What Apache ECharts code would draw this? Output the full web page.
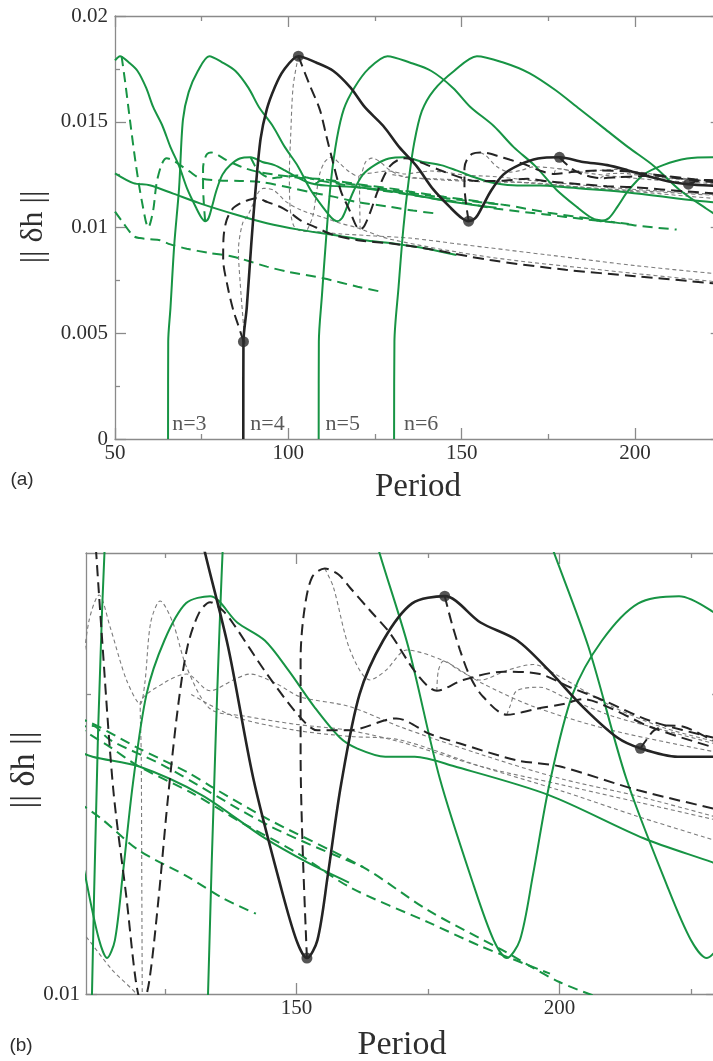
<!DOCTYPE html>
<html>
<head>
<meta charset="utf-8">
<script src="https://cdn.jsdelivr.net/npm/echarts@6/dist/echarts.min.js"></script>
<style>
  html, body { margin: 0; padding: 0; background: #fff; }
  #chart { width: 713px; height: 1061px; }
</style>
</head>
<body>
<div id="chart"></div>
<script>
// ---- tick values and labels ----
const periodLabelsA = [50, 100, 150, 200];
const periodMinorA = [75, 125, 175, 225];
const normLabelsA = [0, 0.005, 0.01, 0.015, 0.02];
const normTextsA = ['0', '0.005', '0.01', '0.015', '0.02'];
const normMinorA = [0.0025, 0.0075, 0.0125, 0.0175];
const periodLabelsB = [150, 200];
const periodMinorB = [125, 175, 225];
const normLabelsB = [0.01];
const normTextsB = ['0.01'];
const normMinorB = [0.0125];

// ---- solid branches [period, ||dh||] ----
const branchN2 = [[50,0.0179],[51.45,0.0181],[54,0.0178],[56.5,0.0174],[59,0.0166],[61,0.0157],[63.7,0.0148],[66,0.0138],[68.5,0.0129],[70.9,0.0118],[73.5,0.0109],[75,0.01045],[76,0.0103],[77,0.01045],[78,0.0110],[79.25,0.01175],[81,0.0125],[83.25,0.01295],[86,0.01326],[89.1,0.01332],[92.5,0.0131],[96,0.01295],[99,0.0127],[102.3,0.01239],[105.5,0.01214],[107.7,0.01205],[111.25,0.01198],[120,0.0119],[132,0.01166],[144,0.0113],[152,0.0111],[160,0.01093]];
const branchN3 = [[65.3,0],[65.35,0.0046],[66,0.0062],[67.1,0.0092],[68.5,0.0119],[69.6,0.0151],[71.25,0.0164],[73.9,0.0174],[77.2,0.0181],[81,0.0178],[84.75,0.0174],[88.5,0.0166],[91.5,0.0157],[95.5,0.0148],[99,0.0138],[102.75,0.0129],[106.35,0.0118],[110.25,0.0109],[112.5,0.01045],[114,0.0103],[115.5,0.01045],[117,0.0110],[118.9,0.01175],[121.5,0.0125],[124.9,0.01295],[129,0.01326],[133.6,0.01332],[138.75,0.0131],[144,0.01295],[148.5,0.0127],[153.5,0.01239],[158.25,0.01214],[161.5,0.01205],[166.9,0.01198],[172.5,0.01198],[180,0.0119],[198,0.01166],[216,0.0113],[229,0.0111],[232,0.01105]];
const branchN4 = [[87,0],[87.05,0.0046],[88,0.0062],[89.3,0.0092],[90.5,0.0117],[92,0.0142],[93.8,0.0156],[96,0.0166],[98.5,0.0174],[102.9,0.0181],[108,0.0178],[113,0.0174],[118,0.0166],[122,0.0157],[127.4,0.0148],[132,0.0138],[137,0.0129],[141.8,0.0118],[147,0.0109],[150,0.01045],[152,0.0103],[154,0.01045],[156,0.0110],[158.5,0.01175],[162,0.0125],[166.5,0.01295],[172,0.01326],[178.2,0.01332],[185,0.0131],[192,0.01295],[198,0.0127],[204.6,0.01239],[211,0.01214],[215.4,0.01205],[222.5,0.01198],[232,0.01198]];
const branchN5 = [[108.75,0],[108.8,0.0046],[109.7,0.0068],[110.9,0.0095],[112.3,0.0122],[114,0.0142],[116,0.0156],[119,0.0166],[123.1,0.0175],[128.6,0.0181],[135,0.0178],[141.25,0.0174],[147.5,0.0166],[152.5,0.0157],[159.25,0.0148],[165,0.0138],[171.25,0.0129],[177.25,0.0118],[183.75,0.0109],[187.5,0.01045],[190,0.0103],[192.5,0.01045],[195,0.0110],[198.1,0.01175],[202.5,0.0125],[208.1,0.01295],[215,0.01326],[222.75,0.01332],[232,0.0131]];
const branchN6 = [[130.5,0],[130.6,0.0046],[131.8,0.0072],[133.2,0.0100],[134.7,0.0122],[136.3,0.0140],[138.5,0.0155],[142,0.0165],[147.8,0.0174],[154.4,0.0181],[162,0.0178],[169.5,0.0173],[177,0.0165],[184,0.0156],[191,0.0147],[198,0.0138],[205.5,0.0129],[212.7,0.0118],[220.5,0.0109],[225,0.01045],[228,0.0103],[232,0.0105]];
const greenLow = [[50,0.01256],[55.3,0.0121],[60,0.0120],[66.8,0.0116],[74.5,0.01114],[85,0.0106],[93.8,0.0102],[103,0.0099],[113,0.00965],[122,0.0094],[129.3,0.00927],[140,0.0090],[148.5,0.0087]];

// ---- green dashed branches ----
const gDash1 = [[51.9,0.0181],[53,0.0168],[54.3,0.0151],[56,0.0130],[57.8,0.0112],[59.6,0.0100],[61,0.0108],[62,0.0121],[63.5,0.0130],[64.9,0.01327],[66.5,0.0132],[68.7,0.01296],[71.5,0.01265],[74.5,0.01233],[80,0.01222],[86,0.0122],[92,0.01215],[100,0.0119],[107,0.01165],[113,0.01146],[120,0.0112],[129.3,0.01098],[136,0.0108],[142.3,0.01067]];
const gDash2 = [[76,0.0103],[75.6,0.0112],[75.4,0.0120],[75.4,0.0128],[75.8,0.0132],[76.6,0.01348],[77.7,0.01355],[79,0.0135],[80.1,0.01339],[82,0.0132],[84,0.01304],[87.5,0.0128],[90.9,0.01264],[96,0.0125],[103.4,0.01235],[110,0.01228],[120,0.01205],[129.3,0.01185],[135,0.0117],[145,0.01145],[163,0.01105],[175,0.0107],[189,0.01037],[200,0.0101],[212,0.0099]];
const gDash3 = [[89.1,0.01332],[89.8,0.0131],[90.5,0.01287],[91.5,0.01265],[92.8,0.01248],[95,0.01233],[97.8,0.01238],[100.4,0.01242],[102.3,0.01246],[105,0.01238],[108.6,0.01223],[114.6,0.01206],[120,0.0119],[130,0.01168],[140,0.01142],[150,0.01118],[160.2,0.01089],[175,0.0106],[185,0.0104],[198.2,0.01017]];
const gDash4 = [[107.7,0.01205],[108.4,0.01213],[109,0.0122],[110.3,0.01224],[111.8,0.01223],[114.6,0.01212],[125,0.0119],[145,0.0114],[162.7,0.01106]];
const gDash5 = [[50,0.01075],[52,0.0103],[55.3,0.0096],[57.2,0.0095],[60,0.00945],[63,0.0094],[66,0.0092],[70.7,0.0090],[77,0.0088],[84.1,0.00862],[93.8,0.00815],[100,0.0079],[110,0.0076],[120,0.0072],[126.9,0.00696]];

// ---- black dashed branches ----
const kDash0 = [[87.1,0.0046],[85.5,0.0054],[84.1,0.0061],[82.5,0.0072],[81.2,0.0085],[81.3,0.0095],[82.2,0.01035],[84,0.0109],[86.1,0.01114],[88.5,0.0113],[90.9,0.01138],[94,0.0112],[97.6,0.01098],[100.5,0.0107],[103.4,0.01035],[108,0.0100],[113,0.00965],[120,0.0094],[129.3,0.00925],[140,0.0090],[158.2,0.00846],[180,0.0080],[200,0.0077],[222.5,0.00736],[232,0.0072]];
const kDash1 = [[102.9,0.0181],[106,0.0168],[109.1,0.01556],[111,0.0143],[113,0.0130],[115.2,0.0117],[117.7,0.0108],[119.5,0.0101],[120.7,0.0099],[122,0.0101],[123.8,0.0108],[125.5,0.0116],[127.5,0.0124],[129.3,0.0129],[131.5,0.01318],[133.6,0.01327],[136,0.0132],[138,0.01309],[144.4,0.01267],[150.7,0.01231],[154,0.0122],[160,0.0122],[169,0.0123],[175.4,0.01217],[181.1,0.01209],[191.9,0.01195],[200,0.0119],[215,0.0117],[232,0.01152]];
const kDash2 = [[152,0.0103],[151.2,0.0112],[150.8,0.0120],[150.8,0.0128],[151.5,0.0132],[153,0.01348],[155.4,0.01355],[158,0.0135],[160.2,0.01339],[164,0.0132],[167.8,0.01301],[172.9,0.01267],[176.7,0.01253],[181.7,0.01262],[189.4,0.01269],[196.3,0.01267],[202,0.01256],[208.4,0.01245],[217.2,0.01228],[229.2,0.01214],[232,0.01212]];
const kDash3 = [[178.2,0.01332],[179.5,0.0131],[181.1,0.01287],[183,0.01265],[185.5,0.01248],[190,0.01233],[195.7,0.01238],[200.8,0.01242],[204.6,0.01246],[210,0.01238],[217.2,0.01223],[229.2,0.01206],[232,0.01204]];
const kDash4 = [[215.4,0.01205],[216.7,0.01213],[218,0.0122],[220.5,0.01224],[223.6,0.01223],[229.2,0.01212],[232,0.0121]];

// ---- thin grey dashed branches ----
const grey1 = [[102.9,0.0181],[101.4,0.0167],[100.7,0.01445],[100.3,0.0125],[100.5,0.0110],[101.5,0.0101],[103.5,0.00985],[108,0.0098],[115,0.0097],[125,0.0096],[135,0.0095],[150,0.0092],[175,0.0087],[200,0.0082],[222.5,0.00783],[232,0.0077]];
const grey2 = [[87.5,0.0045],[86.1,0.0074],[85.6,0.0089],[86.8,0.0102],[88.4,0.0106],[89.9,0.01114],[91.5,0.0117],[92.8,0.01185],[95.7,0.01177],[99.5,0.0112],[104,0.0108],[110,0.01048],[115,0.0102],[119.6,0.0100],[129.3,0.00945],[158,0.0086],[190,0.0080],[222.5,0.00745],[232,0.0073]];
const grey3 = [[105.5,0.0099],[107,0.0105],[108,0.0115],[109,0.0125],[110.5,0.0131],[112.5,0.01333],[114.6,0.01306],[117.7,0.01262],[120.3,0.01242],[121.2,0.0126],[122.3,0.0131],[124.1,0.01328],[126.5,0.0131],[129.1,0.01273],[133.6,0.01238],[140,0.01232],[150,0.01225],[160,0.0122],[170,0.0121],[185,0.0119],[200,0.01175],[215,0.0116],[232,0.01143]];
const grey4 = [[120.7,0.0099],[120.6,0.0110],[120.5,0.0120],[120.3,0.01242],[125,0.0126],[129.1,0.01267],[133.6,0.01253],[138,0.01262],[141.2,0.01267],[146.2,0.01259],[150.7,0.01248],[160,0.0124],[169.7,0.01223],[185,0.0120],[200,0.0118],[215,0.01165],[232,0.01145]];
const grey5 = [[130,0.0125],[138.5,0.01231],[150,0.0122],[160,0.01215],[169.7,0.01212],[185,0.0119],[200,0.0117],[215,0.01148],[232,0.01125]];
const grey6 = [[176.7,0.01253],[177,0.0127],[178,0.01278],[181,0.0127],[185,0.01262],[190,0.0127],[195,0.01275],[200,0.01265],[210,0.0124],[220,0.01222],[232,0.01208]];
const grey7 = [[190,0.01233],[190.6,0.0124],[191.9,0.01253],[196.3,0.01256],[200.8,0.01248],[210,0.01232],[220,0.0122],[232,0.01206]];
const grey8 = [[155.4,0.01355],[157,0.0134],[160.2,0.01287],[164,0.01262],[167,0.0127],[171,0.01287],[178,0.01278],[185,0.0126],[195,0.0124],[210,0.0122],[232,0.0120]];

// ---- marked solutions on the n=4 branch ----
const markedPoints = [[87.05,0.0046],[102.9,0.0181],[152,0.0103],[178.2,0.01332],[215.4,0.01205]];

// ---- branch names written along the period axis ----
const branchNames = [[66.35,0.0007,'n=3'],[88.9,0.0007,'n=4'],[110.6,0.0007,'n=5'],[133.2,0.0007,'n=6']];

// ---- styles ----
const GREEN = '#179444';
const BLACK = '#242424';
const GREY = '#7c7c7c';
const AX = '#8a8a8a';
const SERIF = 'Liberation Serif';

const styleOf = {
  greenSolid: { color: GREEN, width: 2, type: 'solid', z: 4 },
  greenDash: { color: GREEN, width: 2, type: [10, 6], z: 3 },
  blackSolid: { color: BLACK, width: 2.6, type: 'solid', z: 6 },
  blackDash: { color: BLACK, width: 2, type: [11, 6], z: 5 },
  greyDash: { color: GREY, width: 1.1, type: [4, 3], z: 2 }
};

const curves = [
  [grey1, 'greyDash'], [grey2, 'greyDash'], [grey3, 'greyDash'], [grey4, 'greyDash'],
  [grey5, 'greyDash'], [grey6, 'greyDash'], [grey7, 'greyDash'], [grey8, 'greyDash'],
  [gDash1, 'greenDash'], [gDash2, 'greenDash'], [gDash3, 'greenDash'], [gDash4, 'greenDash'], [gDash5, 'greenDash'],
  [branchN2, 'greenSolid'], [branchN3, 'greenSolid'], [branchN5, 'greenSolid'], [branchN6, 'greenSolid'], [greenLow, 'greenSolid'],
  [kDash0, 'blackDash'], [kDash1, 'blackDash'], [kDash2, 'blackDash'], [kDash3, 'blackDash'], [kDash4, 'blackDash'],
  [branchN4, 'blackSolid']
];

// ---- layout: two panels, each with a twin grid carrying the short ticks ----
const rectA = { left: 115, top: 16, width: 606.7, height: 423 };
const rectB = { left: 86, top: 553, width: 631.2, height: 441 };
const gridBase = { containLabel: false, outerBoundsMode: 'none', show: false };
const grids = [rectA, rectA, rectB, rectB].map(r => Object.assign({}, gridBase, r));

function labelFmt(vals, texts) {
  return function (v) {
    for (let i = 0; i < vals.length; i++) {
      if (Math.abs(vals[i] - v) < 1e-9) return texts ? texts[i] : String(vals[i]);
    }
    return '';
  };
}

function axisPair(dim, gi, range, tickVals, long, labels, texts, fontSize, margin) {
  const pos = dim === 'x' ? ['bottom', 'top'] : ['left', 'right'];
  return pos.map((p, k) => ({
    type: 'value', gridIndex: gi, position: p, min: range[0], max: range[1],
    axisLine: { show: long, onZero: false, lineStyle: { color: AX, width: 1.3 } },
    axisTick: { show: true, inside: true, length: long ? 11 : 5, customValues: tickVals,
                lineStyle: { color: AX, width: 1.3 } },
    axisLabel: (k === 0 && labels) ? {
      show: true, customValues: labels, formatter: labelFmt(labels, texts),
      fontFamily: SERIF, fontSize: fontSize, color: '#2e2e2e', margin: margin
    } : { show: false },
    splitLine: { show: false },
    minorTick: { show: false }
  }));
}

const xRangeA = [50, 225], yRangeA = [0, 0.02];
const xRangeB = [110, 230], yRangeB = [0.01, 0.01368];

const xAxes = [].concat(
  axisPair('x', 0, xRangeA, periodLabelsA, true, periodLabelsA, null, 21, 4),
  axisPair('x', 1, xRangeA, periodMinorA, false),
  axisPair('x', 2, xRangeB, periodLabelsB, true, periodLabelsB, null, 21, 4),
  axisPair('x', 3, xRangeB, periodMinorB, false)
);
const yAxes = [].concat(
  axisPair('y', 0, yRangeA, normLabelsA, true, normLabelsA, normTextsA, 21, 7),
  axisPair('y', 1, yRangeA, normMinorA, false),
  axisPair('y', 2, yRangeB, normLabelsB, true, normLabelsB, normTextsB, 21, 6),
  axisPair('y', 3, yRangeB, normMinorB, false)
);

const series = [];
[0, 4].forEach(ai => {
  curves.forEach(([data, kind]) => {
    const s = styleOf[kind];
    series.push({
      type: 'line', xAxisIndex: ai, yAxisIndex: ai, data: data,
      symbol: 'none', showSymbol: false, smooth: 0.3, clip: true, silent: true,
      z: s.z, animation: false,
      lineStyle: { color: s.color, width: s.width, type: s.type, cap: 'butt' }
    });
  });
  series.push({
    type: 'scatter', xAxisIndex: ai, yAxisIndex: ai, data: markedPoints,
    symbol: 'circle', symbolSize: 11, clip: true, silent: true, z: 8, animation: false,
    itemStyle: { color: '#2a2a2a' }
  });
});
series.push({
  type: 'scatter', xAxisIndex: 0, yAxisIndex: 0, data: branchNames,
  symbol: 'circle', symbolSize: 1, silent: true, z: 9, animation: false,
  itemStyle: { color: 'rgba(0,0,0,0)' },
  label: { show: true, position: 'right', distance: 0, formatter: p => p.value[2],
           fontFamily: SERIF, fontSize: 22, color: '#2e2e2e' }
});

function txt(x, y, text, font, rot) {
  return {
    type: 'text', x: x, y: y, rotation: rot || 0, silent: true,
    style: { text: text, font: font, fill: '#2e2e2e', align: 'center', verticalAlign: 'middle',
             textAlign: 'center', textVerticalAlign: 'middle' }
  };
}

const chart = echarts.init(document.getElementById('chart'), null, { renderer: 'canvas' });
chart.setOption({
  backgroundColor: '#fff',
  animation: false,
  grid: grids,
  xAxis: xAxes,
  yAxis: yAxes,
  series: series,
  graphic: [
    txt(418, 487, 'Period', '33px "Liberation Serif"'),
    txt(402, 1045, 'Period', '34px "Liberation Serif"'),
    txt(34, 227, '|| \u03b4h ||', '32px "Liberation Serif"', Math.PI / 2),
    txt(25, 770, '|| \u03b4h ||', '34px "Liberation Serif"', Math.PI / 2),
    txt(22, 480, '(a)', '19px "Liberation Sans"'),
    txt(21, 1046, '(b)', '19px "Liberation Sans"')
  ]
});
</script>
</body>
</html>
